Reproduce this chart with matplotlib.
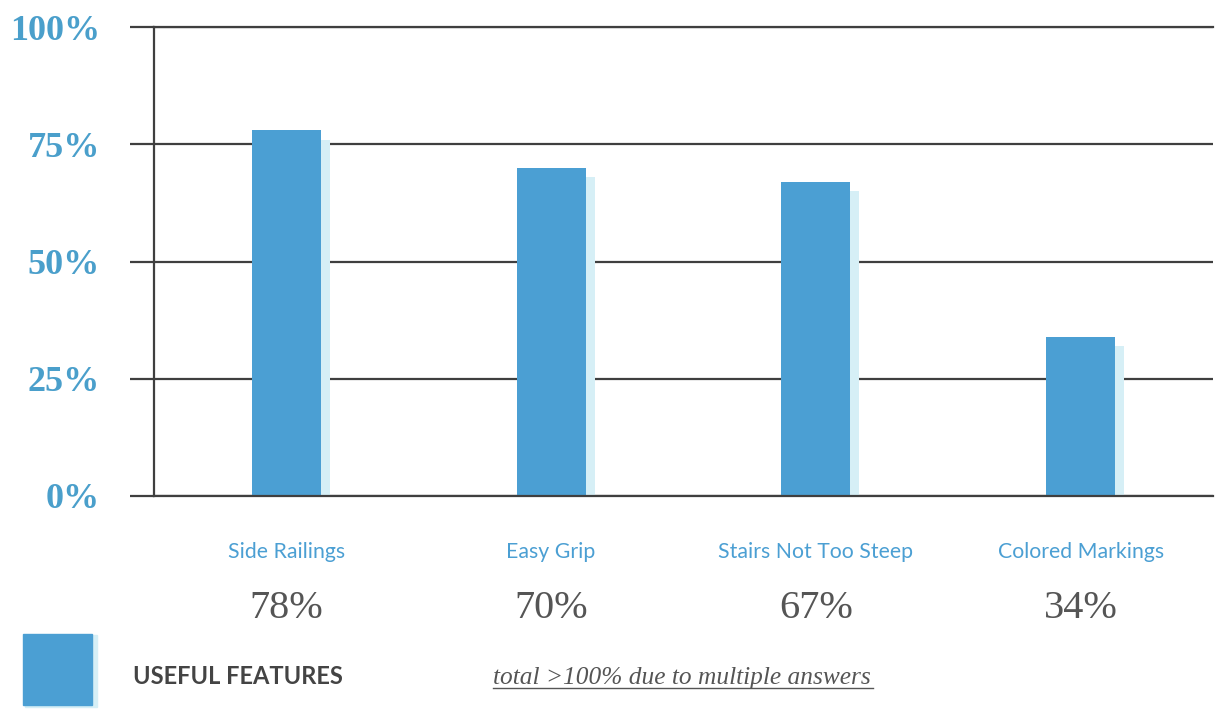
import matplotlib.pyplot as plt
from matplotlib.patches import Rectangle
from matplotlib.lines import Line2D

# survey results
features = ["Side Railings", "Easy Grip", "Stairs Not Too Steep", "Colored Markings"]
shares = [78, 70, 67, 34]
yticks = [0, 25, 50, 75, 100]
ytick_labels = ["0%", "25%", "50%", "75%", "100%"]

BLUE = "#4b9fd3"
SHADOW = "#d6eff6"
GRID = "#3f3f3f"
TICKBLUE = "#4a9fcb"

fig = plt.figure(figsize=(12.17, 7.09), dpi=100)
ax = fig.add_axes([154 / 1217, 213 / 709, 1059 / 1217, 469 / 709])

x = range(len(features))
# pale offset copy behind each bar
ax.bar([i + 0.034 for i in x], [v - 2 for v in shares], width=0.26,
       color=SHADOW, zorder=2)
ax.bar(x, shares, width=0.26, color=BLUE, zorder=3)

ax.set_xlim(-0.5, 3.5)
ax.set_ylim(0, 100)
ax.set_yticks(yticks)
ax.set_yticklabels(ytick_labels, fontfamily="Liberation Serif",
                   fontweight="bold", fontsize=26, color=TICKBLUE)
for lbl in ax.get_yticklabels():
    lbl.set_y(lbl.get_position()[1])
ax.tick_params(axis="y", length=17, width=1.6, color=GRID, pad=22)
ax.set_xticks([])
ax.grid(axis="y", color=GRID, linewidth=1.6, zorder=1)
ax.set_axisbelow(True)
for s in ["top", "right", "bottom"]:
    ax.spines[s].set_visible(False)
ax.spines["left"].set_color(GRID)
ax.spines["left"].set_linewidth(1.6)
ax.axhline(100, color=GRID, linewidth=1.6, zorder=1, clip_on=False)
ax.axhline(0, color=GRID, linewidth=1.6, zorder=4, clip_on=False)

# category names and their values under the axis
for i, (name, v) in enumerate(zip(features, shares)):
    ax.annotate(name, (i, 0), xytext=(0, -40), textcoords="offset points",
                ha="center", va="center", fontfamily="Lato", fontsize=15.3,
                color=BLUE, annotation_clip=False)
    ax.annotate(f"{v}%", (i, 0), xytext=(0, -81), textcoords="offset points",
                ha="center", va="center", fontfamily="Liberation Serif",
                fontsize=29, color="#555555", annotation_clip=False)

# legend swatch
fig.patches.append(Rectangle((25 / 1217, 2 / 709), 72 / 1217, 72 / 709,
                             transform=fig.transFigure, color=SHADOW))
fig.patches.append(Rectangle((23 / 1217, 4 / 709), 69 / 1217, 71 / 709,
                             transform=fig.transFigure, color=BLUE))
fig.text(133 / 1217, 32 / 709, "USEFUL FEATURES", fontfamily="Lato",
         fontweight="bold", fontsize=17, color="#444444", va="center")

fig.text(493 / 1217, 31 / 709, "total >100% due to multiple answers",
         fontfamily="Liberation Serif", style="italic", fontsize=18.3,
         color="#555555", va="center")
fig.lines.append(Line2D([493 / 1217, 873 / 1217], [21 / 709, 21 / 709],
                        transform=fig.transFigure, color="#555555",
                        linewidth=1))

fig.savefig("out.png", dpi=100)
